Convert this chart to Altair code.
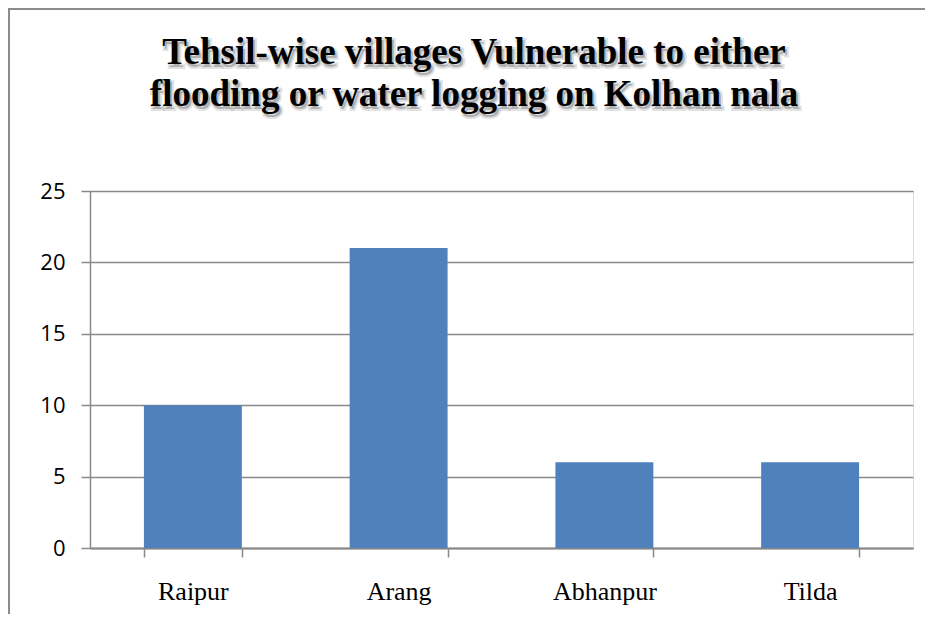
import altair as alt
import pandas as pd

tehsils = ["Raipur", "Arang", "Abhanpur", "Tilda"]
villages = [10, 21, 6, 6]
y_ticks = [0, 5, 10, 15, 20, 25]
title_lines = ["Tehsil-wise villages Vulnerable to either",
               "flooding or water logging on Kolhan nala"]

df = pd.DataFrame({"tehsil": tehsils, "villages": villages})
one = pd.DataFrame({"k": [0]})

W, H = 823, 357
GRID = "#888888"
TITLE_X = 384
TITLE_Y = -127

border = alt.Chart(one).mark_rect(
    fill="white", fillOpacity=0, stroke="#8c8c8c", strokeWidth=2
).encode(
    x=alt.value(-81), x2=alt.value(W + 200),
    y=alt.value(-182), y2=alt.value(H + 300)
)

bars = alt.Chart(df).mark_bar(color="#4F81BD").encode(
    x=alt.X("tehsil:N", sort=tehsils, title=None,
            scale=alt.Scale(paddingInner=0.524, paddingOuter=0.262),
            axis=alt.Axis(labelAngle=0, tickBand="extent", tickSize=9,
                          tickColor=GRID, tickWidth=1.5,
                          domainColor=GRID, domainWidth=2,
                          labelFont="Liberation Serif", labelFontSize=26,
                          labelColor="black", labelBaseline="alphabetic",
                          labelPadding=42, grid=False)),
    y=alt.Y("villages:Q", title=None,
            scale=alt.Scale(domain=[0, 25], nice=False),
            axis=alt.Axis(values=y_ticks, tickSize=9, tickColor=GRID,
                          tickWidth=1.5, domainColor=GRID, domainWidth=1.5,
                          gridColor=GRID, gridWidth=1.5,
                          labelFont="Open Sans", labelFontSize=22,
                          labelColor="black", labelPadding=16))
)

shadow = alt.Chart(one).mark_text(
    text=title_lines, font="Liberation Serif", fontWeight="bold", fontSize=37,
    lineHeight=42, align="center", baseline="alphabetic",
    fill="#606060", fillOpacity=0.45, stroke="#9a9a9a", strokeWidth=4,
    strokeOpacity=0.3, dx=2, dy=3
).encode(x=alt.value(TITLE_X), y=alt.value(TITLE_Y))

title = alt.Chart(one).mark_text(
    text=title_lines, font="Liberation Serif", fontWeight="bold", fontSize=37,
    lineHeight=42, align="center", baseline="alphabetic", color="black"
).encode(x=alt.value(TITLE_X), y=alt.value(TITLE_Y))

chart = alt.layer(border, bars, shadow, title).properties(
    width=W, height=H,
    autosize=alt.AutoSizeParams(type="none"),
    padding={"left": 82, "top": 183, "right": 12, "bottom": 66},
).configure_view(stroke="transparent").configure(background="white")

chart.save("out.html", embed_options={"renderer": "svg", "actions": False})
